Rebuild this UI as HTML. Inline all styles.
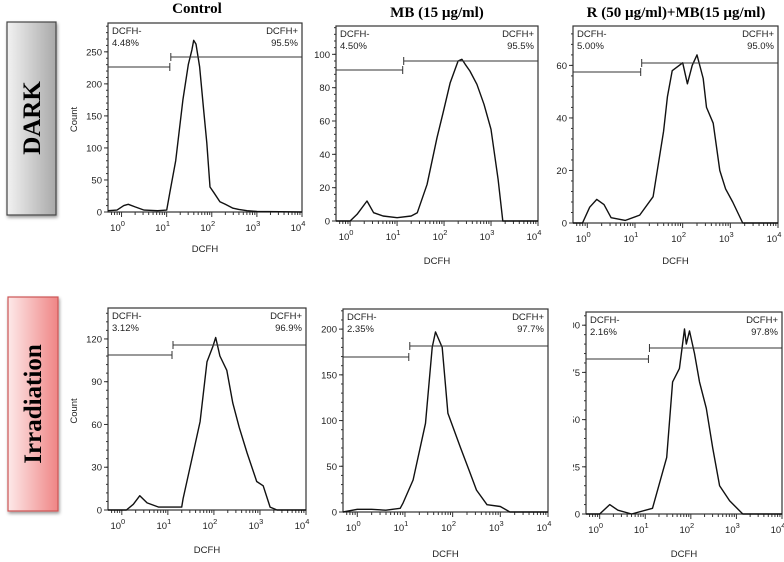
<!DOCTYPE html>
<html><head><meta charset="utf-8"><style>
body{margin:0;background:#fff;width:784px;height:562px;overflow:hidden}
svg{display:block}
.t{font-family:"Liberation Serif",serif;font-weight:bold;font-size:15px}
.s{font-family:"Liberation Sans",sans-serif;font-size:9.5px;fill:#222}
</style></head><body>
<svg id="fig" width="784" height="562">
<defs>
<linearGradient id="gDark" x1="0" x2="1"><stop offset="0" stop-color="#f2f2f2"/><stop offset="1" stop-color="#a9a9a9"/></linearGradient>
<linearGradient id="gIrr" x1="0" x2="1"><stop offset="0" stop-color="#fde9e9"/><stop offset="1" stop-color="#ef8585"/></linearGradient>
<filter id="sh"><feDropShadow dx="1" dy="2" stdDeviation="1.5" flood-opacity="0.4"/></filter>
<clipPath id="c2"><rect x="314" y="0" width="300" height="562"/></clipPath>
<clipPath id="c6"><rect x="573" y="280" width="220" height="290"/></clipPath>
</defs>
<g>
<rect x="7" y="22" width="49" height="193" fill="url(#gDark)" stroke="#444" stroke-width="1.2" filter="url(#sh)"/>
<text class="t" x="0" y="0" transform="translate(40,118) rotate(-90)" text-anchor="middle" style="font-size:25px">DARK</text>
</g>
<g>
<rect x="8" y="297" width="50" height="214" fill="url(#gIrr)" stroke="#c55" stroke-width="1.2" filter="url(#sh)"/>
<text class="t" x="0" y="0" transform="translate(41,404) rotate(-90)" text-anchor="middle" style="font-size:25px">Irradiation</text>
</g>
<text class="t" x="197" y="13" text-anchor="middle">Control</text>
<text class="t" x="437" y="17" text-anchor="middle">MB (15 µg/ml)</text>
<text class="t" x="676" y="17" text-anchor="middle">R (50 µg/ml)+MB(15 µg/ml)</text>
</svg>
<script>
// log10 DCFH positions and counts for each histogram
const p1x=[-0.3,-0.1,0.05,0.15,0.3,0.5,0.8,1.0,1.07,1.2,1.36,1.48,1.56,1.6,1.65,1.73,1.82,1.89,1.96,2.05,2.18,2.3,2.47,2.6,2.78,3.0,4.0];
const p1y=[2,3,10,12,8,3,2,3,30,80,175,230,253,268,262,227,160,108,39,30,16,12,6,4,2,1,0];
const p2x=[-0.3,0.0,0.15,0.36,0.5,0.7,1.0,1.3,1.43,1.64,1.85,1.98,2.13,2.3,2.38,2.45,2.55,2.7,2.85,3.0,3.15,3.25,4.0];
const p2y=[0,0,4,12,5,3,2,3,5,22,50,65,83,96,97,94,90,82,70,55,25,0,0];
const p3x=[-0.3,-0.1,0.05,0.2,0.35,0.5,0.8,1.1,1.38,1.6,1.68,1.78,2.0,2.1,2.2,2.3,2.43,2.5,2.64,2.78,2.9,3.05,3.26,4.0];
const p3y=[0,0,6,9,7,2,1,3,10,35,48,58,61,53,60,64,55,44,38,20,13,8,0,0];
const p4x=[-0.3,0.1,0.25,0.39,0.55,0.8,1.3,1.33,1.55,1.7,1.85,1.98,2.04,2.13,2.28,2.41,2.55,2.72,2.93,3.07,3.22,3.37,4.0];
const p4y=[0,0,4,10,5,2,2,8,40,62,104,115,121,108,98,75,58,40,20,17,2,0,0];
const p5x=[-0.3,0.0,0.3,0.6,0.9,0.96,1.17,1.43,1.57,1.64,1.78,1.9,2.16,2.35,2.5,2.72,3.0,3.2,4.0];
const p5y=[0,3,3,2,4,10,35,97,180,197,180,108,71,45,24,8,6,0,0];
const p6x=[-0.3,0.0,0.22,0.4,0.7,1.16,1.47,1.6,1.75,1.86,1.9,1.97,2.08,2.19,2.34,2.48,2.63,2.85,3.14,4.0];
const p6y=[0,0,5,2,0,3,30,70,77,98,90,97,85,70,56,35,15,7,0,0];
const xTicks=["0","1","2","3","4"];
const yT1=[0,50,100,150,200,250], yT2=[0,20,40,60,80,100], yT3=[0,20,40,60];
const yT4=[0,30,60,90,120], yT5=[0,50,100,150,200], yT6=[0,25,50,75,100];
const labs1=["DCFH-","4.48%","DCFH+","95.5%"], labs2=["DCFH-","4.50%","DCFH+","95.5%"], labs3=["DCFH-","5.00%","DCFH+","95.0%"];
const labs4=["DCFH-","3.12%","DCFH+","96.9%"], labs5=["DCFH-","2.35%","DCFH+","97.7%"], labs6=["DCFH-","2.16%","DCFH+","97.8%"];
const gates=[1.07,1.12,1.12,1.09,1.08,1.07];

const NS="http://www.w3.org/2000/svg", svg=document.getElementById('fig');
function mk(t,a,p){const e=document.createElementNS(NS,t);for(const k in a)e.setAttribute(k,a[k]);(p||svg).appendChild(e);return e;}
const panels=[
 {x0:108,x1:302,y0:23,y1:212,ymax:295,xs:p1x,ys:p1y,yt:yT1,labs:labs1,gl:67,gr:57,cnt:true,xl:252,name:'dark-control'},
 {x0:336,x1:538,y0:26,y1:221,ymax:117,xs:p2x,ys:p2y,yt:yT2,labs:labs2,gl:70,gr:61,clip:'c2',xl:264,name:'dark-mb'},
 {x0:573,x1:778,y0:26,y1:223,ymax:75,xs:p3x,ys:p3y,yt:yT3,labs:labs3,gl:72,gr:63,xl:264,name:'dark-r-mb'},
 {x0:108,x1:306,y0:308,y1:510,ymax:141.7,xs:p4x,ys:p4y,yt:yT4,labs:labs4,gl:355,gr:345,cnt:true,xl:553,name:'irr-control'},
 {x0:343,x1:548,y0:309,y1:512,ymax:222,xs:p5x,ys:p5y,yt:yT5,labs:labs5,gl:357,gr:346,xl:557,name:'irr-mb'},
 {x0:586,x1:782,y0:312,y1:514,ymax:107,xs:p6x,ys:p6y,yt:yT6,labs:labs6,gl:359,gr:348,clip:'c6',xl:557,name:'irr-r-mb'}];
panels.forEach((P,i)=>{
 const g=mk('g',{});
 
 
 const X=v=>P.x0+(v+0.3)/4.3*(P.x1-P.x0), Y=v=>P.y1-v/P.ymax*(P.y1-P.y0);
 mk('rect',{x:P.x0,y:P.y0,width:P.x1-P.x0,height:P.y1-P.y0,fill:'none',stroke:'#333','stroke-width':1.2},g);
 for(let d=-1;d<4;d++)for(let m=1;m<10;m++){const v=d+Math.log10(m);if(v<-0.3||v>4)continue;
  mk('line',{x1:X(v),x2:X(v),y1:P.y1,y2:P.y1+(m==1?5:3),stroke:'#333'},g);}
 mk('line',{x1:X(4),x2:X(4),y1:P.y1,y2:P.y1+5,stroke:'#333'},g);
 xTicks.forEach(k=>{const t=mk('text',{class:'s',x:X(+k)-4,y:P.y1+19,'text-anchor':'middle'},g);t.textContent='10';
  const s=mk('tspan',{dy:-5,style:'font-size:7.5px'},t);s.textContent=k;
  });
 const yg=mk('g',P.clip?{'clip-path':'url(#'+P.clip+')'}:{},g);
 const step=P.yt[1]-P.yt[0];
 for(let v=0;v<=P.ymax;v+=step/5)mk('line',{x1:P.x0-2,x2:P.x0,y1:Y(v),y2:Y(v),stroke:'#333'},yg);
 P.yt.forEach(v=>{mk('line',{x1:P.x0-4,x2:P.x0,y1:Y(v),y2:Y(v),stroke:'#333'},yg);
  const t=mk('text',{class:'s',x:P.x0-6,y:Y(v)+3.5,'text-anchor':'end'},yg);t.textContent=v;
  });
 let d='';P.xs.forEach((v,j)=>{d+=(j?'L':'M')+X(v).toFixed(1)+','+Y(P.ys[j]).toFixed(1);});
 const pth=mk('path',{d:d,fill:'none',stroke:'#111','stroke-width':1.4,'stroke-linejoin':'round'},g);
 
 
 const gx=X(gates[i]);
 mk('path',{d:`M${P.x0},${P.gl}H${gx}M${gx},${P.gl-4}V${P.gl+4}M${gx+1},${P.gr}H${P.x1}M${gx+1},${P.gr-4}V${P.gr+4}`,stroke:'#333',fill:'none','stroke-width':1},g);
 const L=P.labs;
 [[P.x0+4,P.y0+11,'start',L[0]],[P.x0+4,P.y0+23,'start',L[1]],[P.x1-4,P.y0+11,'end',L[2]],[P.x1-4,P.y0+23,'end',L[3]]].forEach(a=>{
  const t=mk('text',{class:'s',x:a[0],y:a[1],'text-anchor':a[2]},g);t.textContent=a[3];
  });
 const xt=mk('text',{class:'s',x:(P.x0+P.x1)/2,y:P.xl,'text-anchor':'middle'},g);xt.textContent='DCFH';
 
 if(P.cnt){const c=mk('text',{class:'s',transform:`translate(77,${(P.y0+P.y1)/2+2}) rotate(-90)`,'text-anchor':'middle'},g);c.textContent='Count';
  }
});
</script>
</body></html>
